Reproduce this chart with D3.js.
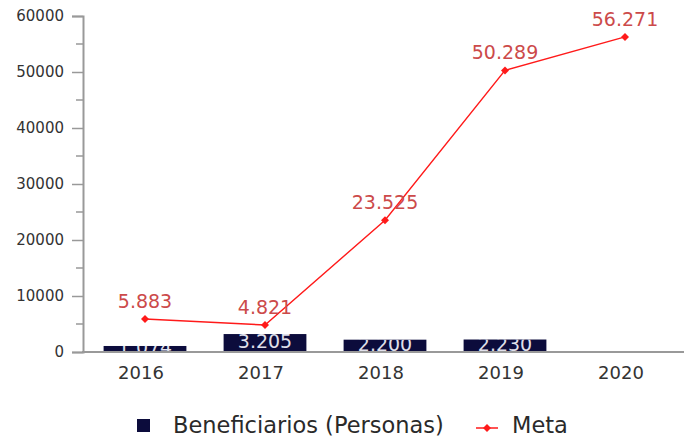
<!DOCTYPE html>
<html>
<head>
<meta charset="utf-8">
<script src="https://cdn.jsdelivr.net/npm/d3@7"></script>
<style>
html,body{margin:0;padding:0;background:#fff;}
svg{display:block;font-family:"DejaVu Sans",sans-serif;}
</style>
</head>
<body>
<svg id="chart" width="688" height="440"></svg>
<script>
const years = ["2016", "2017", "2018", "2019", "2020"];
const beneficiarios = [1074, 3205, 2200, 2230, null];
const meta = [5883, 4821, 23525, 50289, 56271];
const yTicks = [0, 10000, 20000, 30000, 40000, 50000, 60000];
const yMinorTicks = [5000, 15000, 25000, 35000, 45000, 55000];
const seriesNames = ["Beneficiarios (Personas)", "Meta"];

const barColor = "#0c0c3c";
const lineColor = "#ff1a1a";
const labelRed = "#cc4a4a";
const axisColor = "#999";

const svg = d3.select("#chart");
const fmt = v => d3.format(",")(v).replace(/,/g, ".");

const x = d3.scaleBand().domain(years).range([85, 685]).paddingInner(0.31).paddingOuter(0.155);
const y = d3.scaleLinear().domain([0, 60000]).range([352, 16]);

// minor ticks
svg.append("g").selectAll("line").data(yMinorTicks).join("line")
  .attr("x1", 76).attr("x2", 83)
  .attr("y1", d => y(d)).attr("y2", d => y(d))
  .attr("stroke", axisColor).attr("stroke-width", 1.5);

// y axis
const yAxis = svg.append("g").attr("transform", "translate(83,0)")
  .call(d3.axisLeft(y).tickValues(yTicks).tickSize(11).tickPadding(8).tickFormat(d3.format("d")));
yAxis.select(".domain").attr("stroke", axisColor).attr("stroke-width", 2);
yAxis.selectAll(".tick line").attr("stroke", axisColor).attr("stroke-width", 1.5);
yAxis.selectAll("text").attr("font-size", 15).attr("fill", "#333").attr("font-family", "DejaVu Sans");

// bars
const defs = svg.append("defs");
const barData = years.map((yr, i) => ({yr, v: beneficiarios[i], i})).filter(d => d.v != null);
barData.forEach(d => {
  defs.append("clipPath").attr("id", "clip" + d.i).append("rect")
    .attr("x", x(d.yr)).attr("y", y(d.v)).attr("width", x.bandwidth()).attr("height", y(0) - y(d.v));
});
svg.append("g").selectAll("rect").data(barData).join("rect")
  .attr("x", d => x(d.yr)).attr("y", d => y(d.v))
  .attr("width", x.bandwidth()).attr("height", d => y(0) - y(d.v))
  .attr("fill", barColor);
svg.append("g").selectAll("text").data(barData).join("text")
  .attr("clip-path", d => "url(#clip" + d.i + ")")
  .attr("x", d => x(d.yr) + x.bandwidth() / 2)
  .attr("y", d => (y(d.v) + y(0)) / 2 + 5)
  .attr("text-anchor", "middle").attr("font-size", 19).attr("fill", "#e0e0ea")
  .text(d => fmt(d.v));

// x axis
const xAxis = svg.append("g").attr("transform", "translate(0,352)")
  .call(d3.axisBottom(x).tickSize(0).tickPadding(14));
xAxis.select(".domain").attr("stroke", axisColor).attr("stroke-width", 2).attr("d", "M82,0H684");
xAxis.selectAll("text").attr("font-size", 18).attr("fill", "#333").attr("font-family", "DejaVu Sans").attr("dx", -4);

// line
const lineData = years.map((yr, i) => ({yr, v: meta[i]}));
const cx = d => x(d.yr) + x.bandwidth() / 2;
svg.append("path").datum(lineData)
  .attr("d", d3.line().x(cx).y(d => y(d.v)))
  .attr("fill", "none").attr("stroke", lineColor).attr("stroke-width", 1.4);
const marker = d3.symbol().type(d3.symbolSquare).size(32);
svg.append("g").selectAll("path").data(lineData).join("path")
  .attr("d", marker)
  .attr("transform", d => `translate(${cx(d)},${y(d.v)}) rotate(45)`)
  .attr("fill", lineColor);
svg.append("g").selectAll("text").data(lineData).join("text")
  .attr("x", cx).attr("y", d => y(d.v) - 11)
  .attr("text-anchor", "middle").attr("font-size", 19).attr("fill", labelRed)
  .text(d => fmt(d.v));

// legend
const leg = svg.append("g");
leg.append("rect").attr("x", 137).attr("y", 419).attr("width", 13).attr("height", 13).attr("fill", barColor);
leg.append("text").attr("x", 173).attr("y", 433).attr("font-size", 22.5).attr("fill", "#2a2a2a").text(seriesNames[0]);
leg.append("line").attr("x1", 476).attr("x2", 498).attr("y1", 428).attr("y2", 428).attr("stroke", lineColor).attr("stroke-width", 1.5);
leg.append("path").attr("d", marker).attr("transform", "translate(487,428) rotate(45)").attr("fill", lineColor);
leg.append("text").attr("x", 512).attr("y", 433).attr("font-size", 22.5).attr("fill", "#2a2a2a").text(seriesNames[1]);
</script>
</body>
</html>
